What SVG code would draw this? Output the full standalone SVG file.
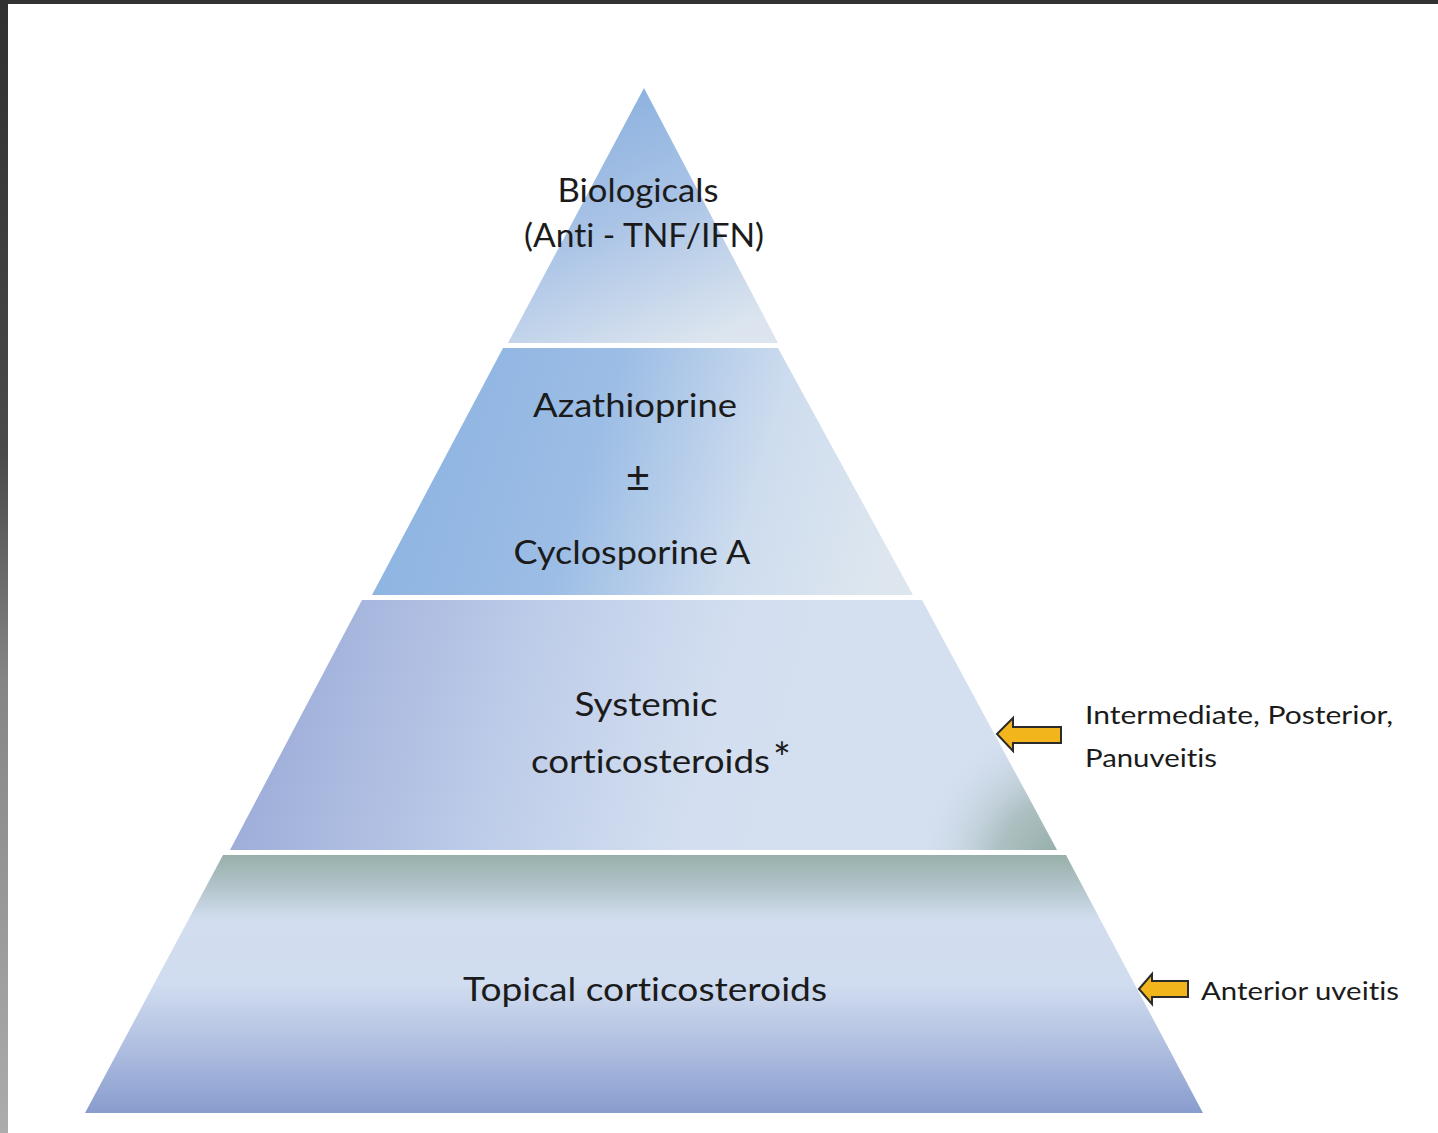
<svg xmlns="http://www.w3.org/2000/svg" width="1438" height="1133" viewBox="0 0 1438 1133">
  <defs>
    <style>
      .lbl { font-family: Lato, "Open Sans", "Liberation Sans", sans-serif; fill: #1b1b1b; font-variant-ligatures: none; font-feature-settings: "liga" 0, "clig" 0; }
      .main { font-size: 33px; }
      .side { font-size: 25px; }
      .arrow { fill: #f2b61c; stroke: #2b2b2b; stroke-width: 2; stroke-linejoin: miter; }
    </style>
    <linearGradient id="gBar" x1="0" y1="0" x2="0" y2="1">
      <stop offset="0" stop-color="#303030"/>
      <stop offset="0.4" stop-color="#4a4a4a"/>
      <stop offset="0.6" stop-color="#858585"/>
      <stop offset="1" stop-color="#acacac"/>
    </linearGradient>
    <linearGradient id="g1" gradientUnits="userSpaceOnUse" x1="600" y1="100" x2="700" y2="343">
      <stop offset="0" stop-color="#8db2df"/>
      <stop offset="0.45" stop-color="#a9c3e6"/>
      <stop offset="1" stop-color="#dce5ef"/>
    </linearGradient>
    <linearGradient id="g2" gradientUnits="userSpaceOnUse" x1="430" y1="420" x2="880" y2="560">
      <stop offset="0" stop-color="#8fb5e2"/>
      <stop offset="0.35" stop-color="#9cbde5"/>
      <stop offset="0.7" stop-color="#cddcee"/>
      <stop offset="1" stop-color="#dde6ef"/>
    </linearGradient>
    <linearGradient id="g3" gradientUnits="userSpaceOnUse" x1="240" y1="640" x2="820" y2="800">
      <stop offset="0" stop-color="#99a8d6"/>
      <stop offset="0.45" stop-color="#bccbe8"/>
      <stop offset="0.8" stop-color="#d3dff0"/>
      <stop offset="1" stop-color="#d4dff0"/>
    </linearGradient>
    <radialGradient id="g3g" gradientUnits="userSpaceOnUse" cx="1065" cy="865" r="150">
      <stop offset="0" stop-color="#8fa9a2" stop-opacity="1"/>
      <stop offset="0.45" stop-color="#a3b8b6" stop-opacity="0.8"/>
      <stop offset="1" stop-color="#d3dff0" stop-opacity="0"/>
    </radialGradient>
    <linearGradient id="g4" gradientUnits="userSpaceOnUse" x1="0" y1="855" x2="0" y2="1113">
      <stop offset="0" stop-color="#98b0aa"/>
      <stop offset="0.1" stop-color="#adc0c4"/>
      <stop offset="0.25" stop-color="#d2deef"/>
      <stop offset="0.5" stop-color="#d0dcef"/>
      <stop offset="0.75" stop-color="#afbee0"/>
      <stop offset="1" stop-color="#889ccd"/>
    </linearGradient>
  </defs>

  <rect x="0" y="0" width="1438" height="1133" fill="#ffffff"/>
  <rect x="0" y="0" width="1438" height="4" fill="#323232"/>
  <rect x="0" y="0" width="8" height="1133" fill="url(#gBar)"/>

  <g id="tier-biologicals">
    <polygon points="644,88 778,343 508,343" fill="url(#g1)"/>
    <text class="lbl main" x="638" y="202" text-anchor="middle" textLength="161" lengthAdjust="spacingAndGlyphs">Biologicals</text>
    <text class="lbl main" x="644" y="247" text-anchor="middle" textLength="240" lengthAdjust="spacingAndGlyphs">(Anti - TNF/IFN)</text>
  </g>

  <g id="tier-immunosuppressants">
    <polygon points="503,348 778,348 913,595 372,595" fill="url(#g2)"/>
    <text class="lbl main" x="635" y="417" text-anchor="middle" textLength="204" lengthAdjust="spacingAndGlyphs">Azathioprine</text>
    <text class="lbl" x="638" y="492" text-anchor="middle" font-size="42">±</text>
    <text class="lbl main" x="632" y="564" text-anchor="middle" textLength="237" lengthAdjust="spacingAndGlyphs">Cyclosporine A</text>
  </g>

  <g id="tier-systemic">
    <polygon points="362,600 922,600 1057,850 230,850" fill="url(#g3)"/>
    <polygon points="362,600 922,600 1057,850 230,850" fill="url(#g3g)"/>
    <text class="lbl main" x="646" y="716" text-anchor="middle" textLength="143" lengthAdjust="spacingAndGlyphs">Systemic</text>
    <text class="lbl main" x="531" y="773" textLength="239" lengthAdjust="spacingAndGlyphs">corticosteroids</text>
    <text class="lbl" x="773" y="773" font-size="42">*</text>
  </g>

  <g id="tier-topical">
    <polygon points="223,855 1066,855 1203,1113 85,1113" fill="url(#g4)"/>
    <text class="lbl main" x="463" y="1001" textLength="364" lengthAdjust="spacingAndGlyphs">Topical corticosteroids</text>
  </g>

  <g id="label-posterior">
    <text class="lbl side" x="1085" y="724" textLength="308" lengthAdjust="spacingAndGlyphs">Intermediate, Posterior,</text>
    <text class="lbl side" x="1085" y="767" textLength="132" lengthAdjust="spacingAndGlyphs">Panuveitis</text>
  </g>

  <g id="label-anterior">
    <text class="lbl side" x="1201" y="1000" textLength="198" lengthAdjust="spacingAndGlyphs">Anterior uveitis</text>
  </g>

  <g id="connectors">
    <polygon class="arrow" points="997,734 1013,718 1013,727 1061,727 1061,743 1013,743 1013,751"/>
    <polygon class="arrow" points="1139,989 1152,974 1152,981 1188,981 1188,997 1152,997 1152,1004"/>
  </g>
</svg>
